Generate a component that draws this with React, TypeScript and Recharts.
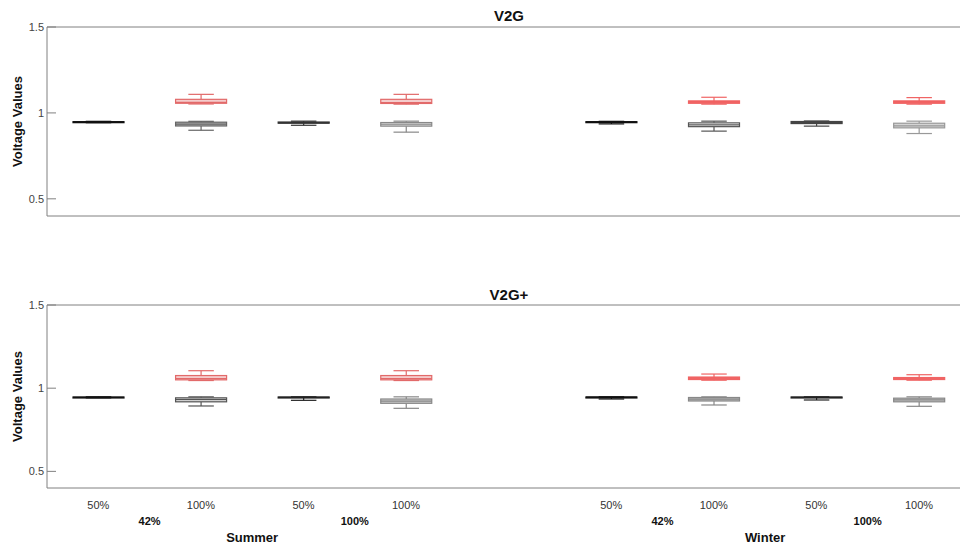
import { Bar, ComposedChart, ReferenceLine, XAxis, YAxis } from "recharts"

// box stats are [min, q1, median, q3, max]
type Stats = number[] | null

const positions = [1, 2, 3, 4, 6, 7, 8, 9]
const xTickLabels = ["50%", "100%", "50%", "100%", "50%", "100%", "50%", "100%"]
const groupPositions = [1.5, 3.5, 6.5, 8.5]
const groupLabels = ["42%", "100%", "42%", "100%"]
const seasonPositions = [2.5, 7.5]
const seasonLabels = ["Summer", "Winter"]
const yTicks = [0.5, 1, 1.5]

const v2gGray: Stats[] = [
  [0.943, 0.945, 0.947, 0.949, 0.951],
  [0.899, 0.924, 0.935, 0.946, 0.951],
  [0.928, 0.94, 0.944, 0.947, 0.952],
  [0.888, 0.923, 0.934, 0.944, 0.952],
  [0.936, 0.944, 0.946, 0.949, 0.951],
  [0.894, 0.92, 0.93, 0.942, 0.952],
  [0.923, 0.938, 0.944, 0.95, 0.953],
  [0.88, 0.913, 0.925, 0.94, 0.952],
]
const v2gRed: Stats[] = [
  null,
  [1.052, 1.056, 1.061, 1.079, 1.108],
  null,
  [1.051, 1.055, 1.06, 1.079, 1.108],
  null,
  [1.051, 1.056, 1.062, 1.07, 1.091],
  null,
  [1.051, 1.056, 1.062, 1.07, 1.089],
]
const v2gPlusGray: Stats[] = [
  [0.942, 0.944, 0.945, 0.947, 0.948],
  [0.893, 0.918, 0.932, 0.942, 0.948],
  [0.927, 0.942, 0.945, 0.947, 0.948],
  [0.879, 0.909, 0.922, 0.935, 0.948],
  [0.935, 0.943, 0.946, 0.947, 0.948],
  [0.899, 0.923, 0.934, 0.944, 0.948],
  [0.929, 0.942, 0.945, 0.947, 0.948],
  [0.891, 0.918, 0.93, 0.94, 0.948],
]
const v2gPlusRed: Stats[] = [
  null,
  [1.046, 1.05, 1.058, 1.076, 1.105],
  null,
  [1.046, 1.05, 1.058, 1.076, 1.105],
  null,
  [1.048, 1.052, 1.058, 1.067, 1.085],
  null,
  [1.048, 1.052, 1.058, 1.064, 1.081],
]

// styles
const axisColor = "#808080"
const fontFamily = "'Liberation Sans', Arial, sans-serif"
const topGrayFill = ["#222", "#b5b5b5", "#444", "#d9d9d9", "#222", "#ffffff", "#555", "#d4d4d4"]
const topGrayStroke = ["#111", "#666", "#333", "#888", "#111", "#555", "#444", "#999"]
const botGrayFill = ["#222", "#cfcfcf", "#333", "#c8c8c8", "#222", "#bbbbbb", "#333", "#c4c4c4"]
const botGrayStroke = ["#111", "#555", "#222", "#888", "#111", "#888", "#222", "#888"]
const redFill = ["", "#f5cccc", "", "#f5cccc", "", "#f25f5f", "", "#f25f5f"]
const redStroke = ["", "#e26a6a", "", "#e26a6a", "", "#f06464", "", "#f06464"]

const allTicks = [...positions, ...groupPositions, ...seasonPositions].sort((a, b) => a - b)

function BoxGlyph(props: any) {
  const { x, y, width, height, stats, fill, stroke } = props
  if (!stats || !Number.isFinite(y) || !Number.isFinite(height)) return <g />
  const [lo, q1, med, q3, hi] = stats
  const top = Math.min(y, y + height)
  const h = Math.abs(height)
  // linear scale between the pixel ends of the range bar
  const py = (v: number) => (hi === lo ? top : top + (h * (hi - v)) / (hi - lo))
  const cx = x + width / 2
  const cap = width / 4
  const yq3 = py(q3)
  const yq1 = py(q1)
  const ym = py(med)
  return (
    <g stroke={stroke} strokeWidth={1.2}>
      <line x1={cx} x2={cx} y1={top} y2={yq3} />
      <line x1={cx} x2={cx} y1={yq1} y2={top + h} />
      <line x1={cx - cap} x2={cx + cap} y1={top} y2={top} />
      <line x1={cx - cap} x2={cx + cap} y1={top + h} y2={top + h} />
      <rect x={x} y={yq3} width={width} height={Math.max(yq1 - yq3, 1)} fill={fill} />
      <line x1={x} x2={x + width} y1={ym} y2={ym} />
    </g>
  )
}

function GroupTick(props: any) {
  const { x, y, payload } = props
  const v = payload.value
  const pi = positions.indexOf(v)
  if (pi >= 0)
    return (
      <text x={x} y={y + 21} textAnchor="middle" fontSize={11} fill="#333">
        {xTickLabels[pi]}
      </text>
    )
  const gi = groupPositions.indexOf(v)
  if (gi >= 0)
    return (
      <text x={x} y={y + 37} textAnchor="middle" fontSize={11} fontWeight={700} fill="#111">
        {groupLabels[gi]}
      </text>
    )
  const si = seasonPositions.indexOf(v)
  if (si >= 0)
    return (
      <text x={x} y={y + 54} textAnchor="middle" fontSize={13} fontWeight={700} fill="#111">
        {seasonLabels[si]}
      </text>
    )
  return <g />
}

function Panel(props: {
  gray: Stats[]
  red: Stats[]
  grayFill: string[]
  grayStroke: string[]
  showTicks: boolean
  height: number
  marginTop: number
  xHeight: number
}) {
  const rows = positions.map((pos, i) => ({ pos, i, gray: props.gray[i], red: props.red[i] }))
  return (
    <ComposedChart
      width={960}
      height={props.height}
      data={rows}
      margin={{ top: props.marginTop, right: 0, bottom: 0, left: 0 }}
      barGap={-51}
      barSize={51}
    >
      <XAxis
        dataKey="pos"
        type="number"
        domain={[0.5, 9.4]}
        allowDataOverflow
        ticks={props.showTicks ? allTicks : []}
        interval={0}
        tick={props.showTicks ? (p: any) => <GroupTick {...p} /> : false}
        tickLine={false}
        tickSize={0}
        tickMargin={0}
        axisLine={{ stroke: axisColor }}
        height={props.xHeight}
      />
      <YAxis
        type="number"
        domain={[0.4, 1.5]}
        allowDataOverflow
        ticks={yTicks}
        width={47}
        tickSize={-9}
        tickMargin={12}
        tick={{ fill: "#444", fontSize: 11 }}
        tickLine={{ stroke: axisColor }}
        axisLine={{ stroke: axisColor }}
        label={{
          value: "Voltage Values",
          angle: -90,
          position: "insideLeft",
          offset: 17,
          style: { textAnchor: "middle", fontWeight: 700, fontSize: 13, fill: "#111" },
        }}
      />
      <ReferenceLine y={1.5} stroke={axisColor} />
      <Bar
        dataKey={(d: any) => (d.gray ? [d.gray[0], d.gray[4]] : null)}
        isAnimationActive={false}
        shape={(p: any) => (
          <BoxGlyph
            {...p}
            stats={p.payload.gray}
            fill={props.grayFill[p.payload.i]}
            stroke={props.grayStroke[p.payload.i]}
          />
        )}
      />
      <Bar
        dataKey={(d: any) => (d.red ? [d.red[0], d.red[4]] : null)}
        isAnimationActive={false}
        shape={(p: any) => (
          <BoxGlyph
            {...p}
            stats={p.payload.red}
            fill={redFill[p.payload.i]}
            stroke={redStroke[p.payload.i]}
          />
        )}
      />
    </ComposedChart>
  )
}

const titleStyle = {
  position: "absolute" as const,
  left: 409,
  width: 200,
  textAlign: "center" as const,
  fontWeight: 700,
  fontSize: 15,
  lineHeight: "15px",
  color: "#111",
}

export default function App() {
  return (
    <div style={{ position: "absolute", left: 0, top: 0, width: 960, height: 544, background: "#fff", fontFamily, overflow: "hidden" }}>
      <div style={{ ...titleStyle, top: 8 }}>V2G</div>
      <div style={{ ...titleStyle, top: 287 }}>V2G+</div>
      <div style={{ position: "absolute", left: 0, top: 0 }}>
        <Panel gray={v2gGray} red={v2gRed} grayFill={topGrayFill} grayStroke={topGrayStroke} showTicks={false} height={230} marginTop={27} xHeight={14} />
      </div>
      <div style={{ position: "absolute", left: 0, top: 260 }}>
        <Panel gray={v2gPlusGray} red={v2gPlusRed} grayFill={botGrayFill} grayStroke={botGrayStroke} showTicks={true} height={284} marginTop={45} xHeight={56} />
      </div>
    </div>
  )
}
